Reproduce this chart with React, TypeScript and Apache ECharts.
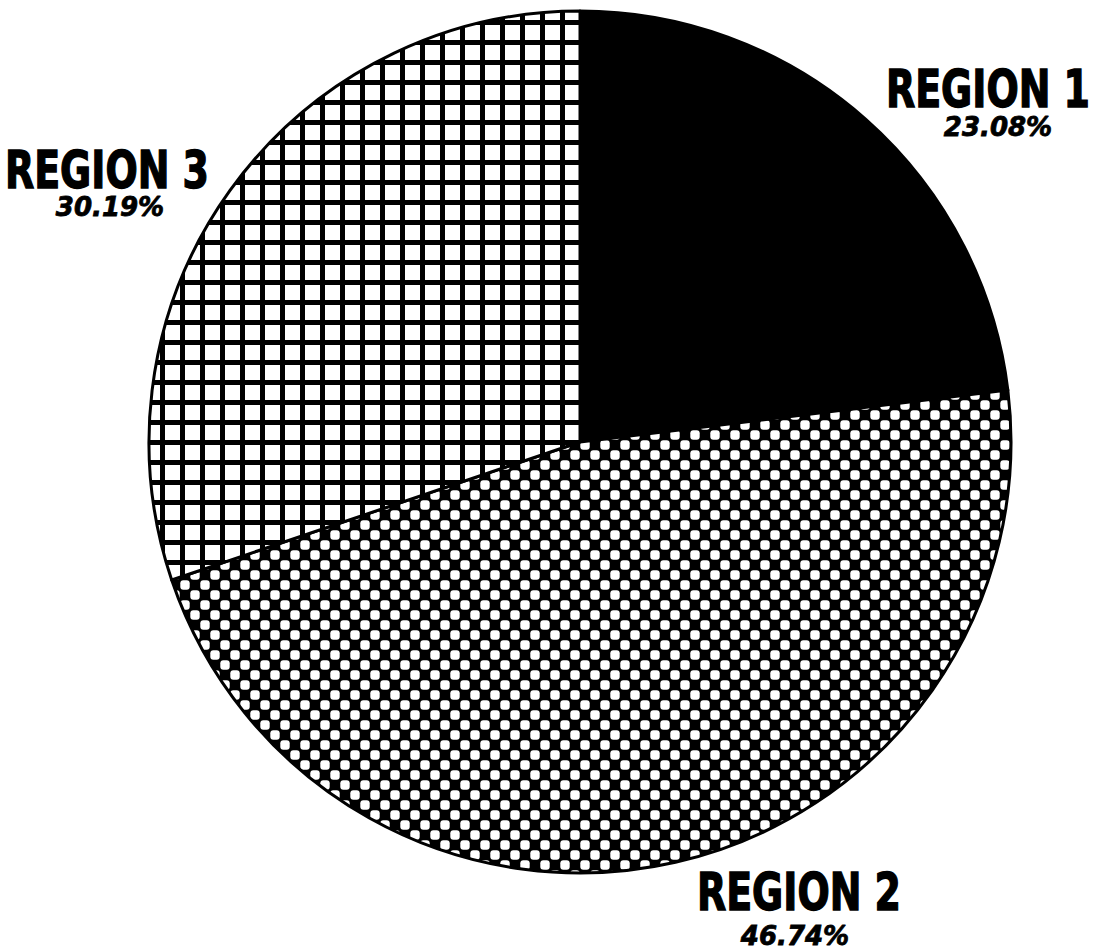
import React, { useEffect, useRef } from "react";
import * as echarts from "echarts";

// ---- data ----
const regionNames = ["REGION 1", "REGION 2", "REGION 3"];
const regionShares = [23.08, 46.74, 30.19];

// ---- styling: label positions (px, centre of each text line) ----
const namePos: [number, number][] = [
  [988, 89],
  [799, 892],
  [107, 170],
];
const pctPos: [number, number][] = [
  [998, 127],
  [795, 936],
  [110, 207],
];

function makeGridPattern(): string {
  const c = document.createElement("canvas");
  c.width = 20;
  c.height = 20;
  const g = c.getContext("2d")!;
  g.fillStyle = "#000";
  g.fillRect(0, 0, 20, 20);
  g.fillStyle = "#fff";
  g.fillRect(5, 5, 15, 15);
  return c.toDataURL();
}

function makeCheckerPattern(): string {
  const c = document.createElement("canvas");
  c.width = 20;
  c.height = 20;
  const g = c.getContext("2d")!;
  g.fillStyle = "#000";
  g.fillRect(0, 0, 20, 20);
  g.fillStyle = "#fff";
  const dot = (x: number, y: number) => {
    const w = 9.4;
    const r = 3;
    const x0 = x - w / 2;
    const y0 = y - w / 2;
    g.beginPath();
    g.moveTo(x0 + r, y0);
    g.lineTo(x0 + w - r, y0);
    g.quadraticCurveTo(x0 + w, y0, x0 + w, y0 + r);
    g.lineTo(x0 + w, y0 + w - r);
    g.quadraticCurveTo(x0 + w, y0 + w, x0 + w - r, y0 + w);
    g.lineTo(x0 + r, y0 + w);
    g.quadraticCurveTo(x0, y0 + w, x0, y0 + w - r);
    g.lineTo(x0, y0 + r);
    g.quadraticCurveTo(x0, y0, x0 + r, y0);
    g.closePath();
    g.fill();
  };
  dot(5, 5);
  dot(15, 15);
  return c.toDataURL();
}

export default function App() {
  const ref = useRef<HTMLDivElement>(null);

  useEffect(() => {
    if (!ref.current) return;
    const chart = echarts.init(ref.current, null, { renderer: "svg" });
    const grid = makeGridPattern();
    const checker = makeCheckerPattern();
    const fills: any[] = [
      "#000",
      { image: checker, repeat: "repeat", imageWidth: 20, imageHeight: 20 },
      { image: grid, repeat: "repeat", imageWidth: 20, imageHeight: 20 },
    ];

    const texts: any[] = [];
    regionNames.forEach((name, i) => {
      texts.push({
        type: "text",
        x: namePos[i][0],
        y: namePos[i][1],
        scaleX: 0.73,
        style: {
          text: name,
          fill: "#000",
          stroke: "#000",
          lineWidth: 1.5,
          font: 'bold 52px "DejaVu Sans", sans-serif',
          textAlign: "center",
          textVerticalAlign: "middle",
        },
      });
      texts.push({
        type: "text",
        x: pctPos[i][0],
        y: pctPos[i][1],
        style: {
          text: `${regionShares[i].toFixed(2)}%`,
          fill: "#000",
          stroke: "#000",
          lineWidth: 0.8,
          font: 'italic bold 26px "DejaVu Sans", sans-serif',
          textAlign: "center",
          textVerticalAlign: "middle",
        },
      });
    });

    chart.setOption({
      animation: false,
      backgroundColor: "#fff",
      graphic: texts,
      series: [
        {
          type: "pie",
          center: [580, 442],
          radius: 431,
          startAngle: 90,
          clockwise: true,
          avoidLabelOverlap: false,
          emphasis: { disabled: true },
          itemStyle: { borderColor: "#000", borderWidth: 3 },
          label: { show: false },
          labelLine: { show: false },
          data: regionNames.map((name, i) => ({
            name,
            value: regionShares[i],
            itemStyle: { color: fills[i] },
          })),
        },
      ],
    });
    return () => chart.dispose();
  }, []);

  return (
    <div
      ref={ref}
      style={{ position: "fixed", left: 0, top: 0, width: 1098, height: 951 }}
    />
  );
}
